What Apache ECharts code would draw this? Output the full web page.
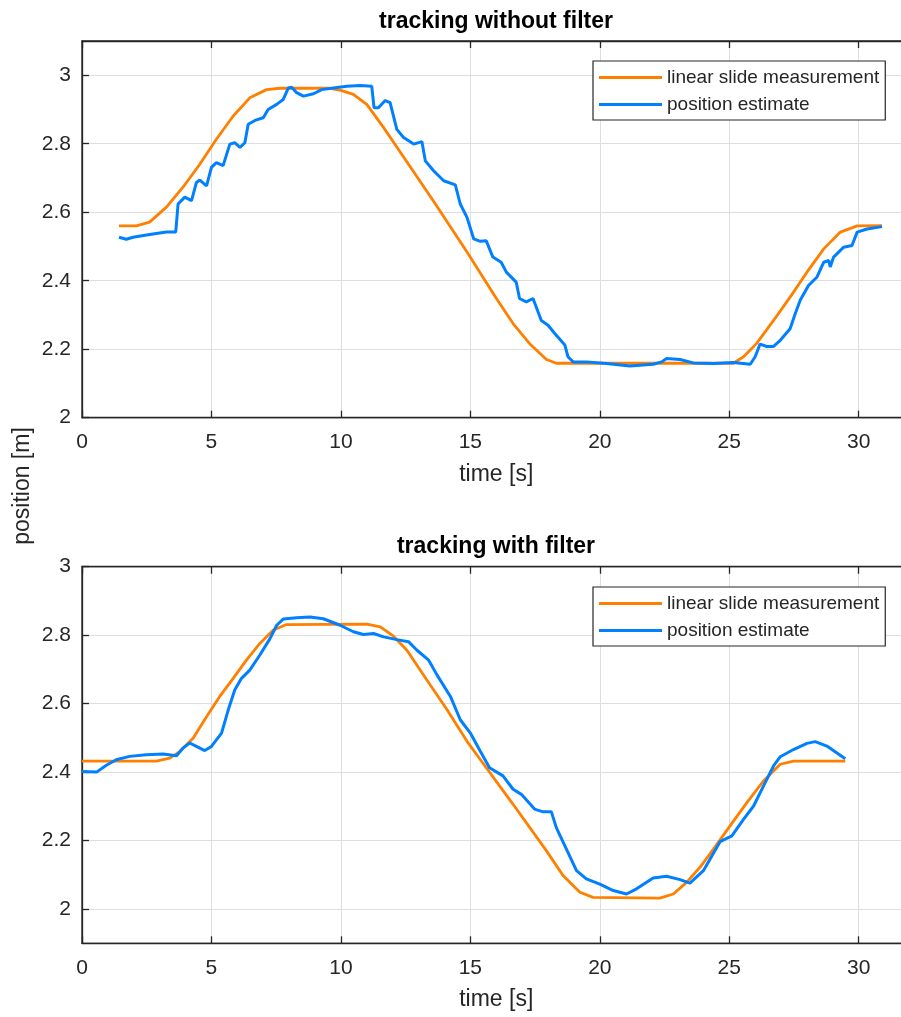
<!DOCTYPE html>
<html>
<head>
<meta charset="utf-8">
<title>tracking</title>
<script src="https://cdn.jsdelivr.net/npm/echarts@6/dist/echarts.min.js"></script>
<style>
  html, body { margin: 0; padding: 0; background: #fff; }
  #chart { width: 901px; height: 1017px; }
</style>
</head>
<body>
<div id="chart"></div>
<script>
// values
var seriesNames = ['linear slide measurement', 'position estimate'];
var xTicks = [0, 5, 10, 15, 20, 25, 30];
var yTicks = [2, 2.2, 2.4, 2.6, 2.8, 3];

// top plot: without filter
var topSlideT = [1.43, 2.1, 2.61, 3.26, 3.9, 4.55, 5.19, 5.84, 6.48, 7.13, 7.65, 9.58, 10.0, 10.48, 11.0, 11.65, 12.29, 13.58, 14.87, 16.0, 16.65, 17.29, 17.94, 18.32, 25.16, 25.55, 26.06, 26.71, 27.35, 28.0, 28.65, 29.29, 29.94, 30.9];
var topSlideV = [2.56, 2.56, 2.571, 2.615, 2.673, 2.74, 2.813, 2.881, 2.934, 2.958, 2.962, 2.962, 2.956, 2.944, 2.915, 2.847, 2.776, 2.632, 2.484, 2.349, 2.275, 2.216, 2.17, 2.159, 2.159, 2.178, 2.217, 2.284, 2.352, 2.425, 2.493, 2.542, 2.56, 2.561];

var topEstT = [1.43, 1.71, 1.97, 2.61, 3.26, 3.62, 3.71, 3.97, 4.23, 4.42, 4.55, 4.81, 5.0, 5.19, 5.45, 5.71, 5.9, 6.1, 6.29, 6.42, 6.68, 7.0, 7.19, 7.52, 7.77, 7.97, 8.1, 8.29, 8.55, 8.94, 9.26, 9.71, 10.23, 10.74, 11.19, 11.28, 11.45, 11.71, 11.9, 12.16, 12.42, 12.81, 13.13, 13.26, 13.58, 13.97, 14.42, 14.61, 14.87, 15.13, 15.39, 15.61, 15.87, 16.19, 16.39, 16.77, 16.9, 17.16, 17.42, 17.74, 18.0, 18.26, 18.65, 18.77, 18.97, 19.48, 20.26, 21.16, 22.06, 22.39, 22.58, 23.1, 23.61, 24.39, 25.16, 25.81, 26.0, 26.19, 26.45, 26.71, 26.97, 27.35, 27.55, 27.74, 28.06, 28.39, 28.65, 28.84, 28.9, 29.03, 29.42, 29.74, 29.94, 30.32, 30.9];
var topEstV = [2.527, 2.521, 2.527, 2.535, 2.542, 2.542, 2.624, 2.644, 2.634, 2.687, 2.694, 2.677, 2.731, 2.745, 2.736, 2.799, 2.803, 2.789, 2.803, 2.857, 2.868, 2.876, 2.9, 2.915, 2.929, 2.963, 2.965, 2.949, 2.939, 2.946, 2.958, 2.963, 2.968, 2.97, 2.968, 2.905, 2.905, 2.926, 2.92, 2.842, 2.818, 2.799, 2.806, 2.75, 2.721, 2.692, 2.68, 2.624, 2.585, 2.522, 2.515, 2.517, 2.469, 2.454, 2.425, 2.396, 2.348, 2.338, 2.348, 2.284, 2.27, 2.246, 2.212, 2.178, 2.163, 2.163, 2.158, 2.151, 2.156, 2.163, 2.173, 2.17, 2.16, 2.158, 2.161, 2.156, 2.178, 2.215, 2.208, 2.208, 2.226, 2.26, 2.304, 2.343, 2.386, 2.411, 2.454, 2.459, 2.44, 2.469, 2.498, 2.503, 2.542, 2.551, 2.558];

// bottom plot: with filter
var botSlideT = [0, 2.87, 3.39, 3.77, 4.29, 4.81, 5.32, 5.84, 6.35, 6.87, 7.39, 7.9, 11.0, 11.52, 12.03, 12.55, 13.32, 14.1, 14.87, 15.39, 16.65, 17.94, 18.58, 19.23, 19.74, 22.32, 22.84, 23.35, 23.87, 24.39, 25.03, 25.68, 26.32, 26.97, 27.48, 29.48];
var botSlideV = [2.432, 2.432, 2.441, 2.46, 2.499, 2.562, 2.621, 2.674, 2.727, 2.776, 2.815, 2.831, 2.832, 2.824, 2.797, 2.756, 2.669, 2.582, 2.49, 2.436, 2.306, 2.17, 2.098, 2.049, 2.034, 2.032, 2.044, 2.078, 2.122, 2.175, 2.243, 2.311, 2.374, 2.423, 2.432, 2.432];

var botEstT = [0, 0.56, 0.94, 1.32, 1.84, 2.48, 3.13, 3.65, 3.9, 4.16, 4.42, 4.74, 5.0, 5.39, 5.65, 5.9, 6.16, 6.48, 6.87, 7.26, 7.52, 7.77, 8.29, 8.81, 9.32, 9.97, 10.48, 10.87, 11.26, 11.65, 12.16, 12.61, 12.94, 13.39, 13.71, 14.23, 14.61, 15.0, 15.39, 15.74, 16.26, 16.65, 16.97, 17.48, 17.81, 18.13, 18.32, 18.71, 19.1, 19.48, 20.0, 20.52, 21.03, 21.42, 22.06, 22.58, 23.1, 23.48, 24.0, 24.65, 25.1, 25.55, 25.94, 26.32, 26.71, 26.97, 27.48, 28.0, 28.32, 28.77, 29.48];
var botEstV = [2.402, 2.4, 2.42, 2.436, 2.446, 2.451, 2.453, 2.448, 2.47, 2.485, 2.475, 2.463, 2.475, 2.514, 2.582, 2.64, 2.674, 2.698, 2.742, 2.79, 2.829, 2.847, 2.851, 2.853, 2.848, 2.829, 2.81, 2.802, 2.805, 2.795, 2.787, 2.781, 2.756, 2.727, 2.684, 2.621, 2.553, 2.514, 2.46, 2.413, 2.389, 2.35, 2.335, 2.292, 2.284, 2.284, 2.238, 2.175, 2.112, 2.088, 2.073, 2.054, 2.044, 2.059, 2.091, 2.096, 2.086, 2.076, 2.112, 2.197, 2.214, 2.262, 2.301, 2.359, 2.418, 2.445, 2.466, 2.484, 2.489, 2.476, 2.439];

(function() {
  var myChart = echarts.init(document.getElementById('chart'));
  var FONT = 'Liberation Sans, Arial, Helvetica, sans-serif';
  var INK = '#262626';
  var ORANGE = '#ff8000';
  var BLUE = '#0080ff';

  function pairs(t, v) {
    return t.map(function(x, i) { return [x, v[i]]; });
  }

  function bottomAxis(gridIndex) {
    return {
      type: 'value', gridIndex: gridIndex, position: 'bottom',
      min: 0, max: 32,
      name: 'time [s]', nameLocation: 'middle', nameGap: 45,
      nameTextStyle: { fontFamily: FONT, fontSize: 23, color: INK },
      axisLine: { onZero: false, lineStyle: { color: INK, width: 1.3 } },
      axisTick: { inside: true, length: 7, customValues: xTicks, lineStyle: { color: INK, width: 1.3 } },
      axisLabel: { customValues: xTicks, margin: 14, fontFamily: FONT, fontSize: 21, color: INK },
      splitLine: { show: true, lineStyle: { color: '#dedede', width: 1 } }
    };
  }
  function topAxis(gridIndex) {
    return {
      type: 'value', gridIndex: gridIndex, position: 'top',
      min: 0, max: 32,
      axisLine: { onZero: false, lineStyle: { color: INK, width: 1.3 } },
      axisTick: { inside: true, length: 7, customValues: xTicks, lineStyle: { color: INK, width: 1.3 } },
      axisLabel: { show: false },
      splitLine: { show: false }
    };
  }
  function leftAxis(gridIndex, min, max) {
    return {
      type: 'value', gridIndex: gridIndex, min: min, max: max,
      axisLine: { show: true, onZero: false, lineStyle: { color: INK, width: 1.3 } },
      axisTick: { show: true, inside: true, length: 7, customValues: yTicks, lineStyle: { color: INK, width: 1.3 } },
      axisLabel: { customValues: yTicks, margin: 11, fontFamily: FONT, fontSize: 21, color: INK },
      splitLine: { show: true, lineStyle: { color: '#dedede', width: 1 } }
    };
  }
  function legendAt(top) {
    return {
      data: seriesNames, orient: 'vertical', left: 593, top: top,
      icon: 'rect', itemWidth: 63, itemHeight: 3, itemGap: 8,
      padding: [7, 6, 6, 6],
      backgroundColor: '#fff', borderColor: INK, borderWidth: 1.2, borderRadius: 0,
      itemStyle: { borderWidth: 0 },
      textStyle: { fontFamily: FONT, fontSize: 19, lineHeight: 19, color: INK }
    };
  }
  function lineSeries(name, color, xi, yi, data, width) {
    return {
      name: name, type: 'line', xAxisIndex: xi, yAxisIndex: yi,
      data: data, showSymbol: false, animation: false,
      color: color, lineStyle: { color: color, width: width }
    };
  }

  var option = {
    backgroundColor: '#fff',
    animation: false,
    title: [
      { text: 'tracking without filter', left: 496, top: 10, textAlign: 'center', padding: 0,
        textStyle: { fontFamily: FONT, fontSize: 23, fontWeight: 'bold', color: '#000' } },
      { text: 'tracking with filter', left: 496, top: 535, textAlign: 'center', padding: 0,
        textStyle: { fontFamily: FONT, fontSize: 23, fontWeight: 'bold', color: '#000' } }
    ],
    grid: [
      { left: 82, top: 41, width: 828.5, height: 376.7, outerBoundsMode: 'none',
        show: true, borderColor: INK, borderWidth: 1.3, backgroundColor: '#fff' },
      { left: 82, top: 566.7, width: 828.5, height: 376.6, outerBoundsMode: 'none',
        show: true, borderColor: INK, borderWidth: 1.3, backgroundColor: '#fff' }
    ],
    xAxis: [bottomAxis(0), topAxis(0), bottomAxis(1), topAxis(1)],
    yAxis: [leftAxis(0, 2, 3.1), leftAxis(1, 1.9, 3)],
    legend: [legendAt(61), legendAt(587)],
    graphic: [
      { type: 'text', x: 23, y: 486, rotation: Math.PI / 2,
        style: { text: 'position [m]', fontFamily: FONT, fontSize: 23, fill: INK, align: 'center', verticalAlign: 'middle' } }
    ],
    series: [
      lineSeries(seriesNames[0], ORANGE, 0, 0, pairs(topSlideT, topSlideV), 2.8),
      lineSeries(seriesNames[1], BLUE, 0, 0, pairs(topEstT, topEstV), 3),
      lineSeries(seriesNames[0], ORANGE, 2, 1, pairs(botSlideT, botSlideV), 2.8),
      lineSeries(seriesNames[1], BLUE, 2, 1, pairs(botEstT, botEstV), 3)
    ]
  };

  myChart.setOption(option);
  window.addEventListener('resize', function() {
    myChart.resize();
  });
})();
</script>
</body>
</html>
